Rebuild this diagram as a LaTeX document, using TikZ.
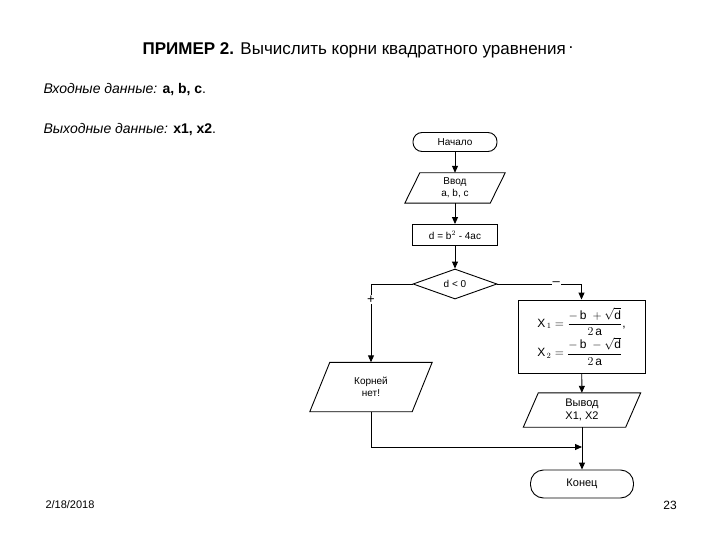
\documentclass[tikz,border=0pt]{standalone}
\usepackage{fontspec}
\setmainfont{Liberation Sans}
\usetikzlibrary{shapes.geometric,arrows.meta}
\begin{document}
\begin{tikzpicture}[x=1pt,y=-1pt,
  box/.style={draw=none,inner sep=0,font=\fontsize{10}{12}\selectfont,align=center},
  ln/.style={line width=0.9pt},
  arr/.style={ln,-{Triangle[length=7pt,width=6pt]}}]
\useasboundingbox (0,0) rectangle (720,540);
\node[font=\fontsize{17}{20}\selectfont] (title) at (358,50) {\textbf{ПРИМЕР 2.} Вычислить корни квадратного уравнения\,\raisebox{6pt}{.}};
\node[anchor=west,font=\fontsize{14}{16}\selectfont] (in) at (40,90) {\textit{Входные данные:} \textbf{a, b, c}.};
\node[anchor=west,font=\fontsize{14}{16}\selectfont] (out) at (40,130) {\textit{Выходные данные:} \textbf{x1, x2}.};
\node[anchor=west,font=\fontsize{11}{13}\selectfont] (date) at (42,505) {2/18/2018};
\node[font=\fontsize{12}{14}\selectfont] (pg) at (670,505) {23};

\node[box,draw,rounded corners=9pt,minimum width=84pt,minimum height=19pt,ln] (start) at (455,142) {Начало};
\node[box,minimum width=100pt,minimum height=30pt] (inp) at (455,188) {Ввод\\a, b, c};
\draw[ln] ([xshift=15pt]inp.north west) -- (inp.north east) -- ([xshift=-15pt]inp.south east) -- (inp.south west) -- cycle;
\node[box,draw,ln,minimum width=85pt,minimum height=21pt] (calc) at (455,235) {d = b$^2$ - 4ac};
\node[box,draw,ln,diamond,aspect=2.8,minimum width=84pt,minimum height=30pt] (cond) at (455,284) {d < 0};
\node[box,draw,ln,minimum width=127pt,minimum height=73pt,font=\fontsize{12}{14}\selectfont] (form) at (581.5,336.5) {%
$\displaystyle\mathrm{X}_{\,1} = \frac{-\,\mathrm{b}\;+\sqrt{\mathrm{d}}}{2\,\mathrm{a}}$,\\[1pt]
$\displaystyle\mathrm{X}_{\,2} = \frac{-\,\mathrm{b}\;-\sqrt{\mathrm{d}}}{2\,\mathrm{a}}$\phantom{,}};
\node[box,minimum width=122pt,minimum height=49pt] (none) at (371,387) {Корней\\нет!};
\draw[ln] ([xshift=20pt]none.north west) -- (none.north east) -- ([xshift=-20pt]none.south east) -- (none.south west) -- cycle;
\node[box,minimum width=117pt,minimum height=34pt,font=\fontsize{11}{13}\selectfont] (outp) at (582,410) {Вывод\\X1, X2};
\draw[ln] ([xshift=15pt]outp.north west) -- (outp.north east) -- ([xshift=-15pt]outp.south east) -- (outp.south west) -- cycle;
\node[box,draw,ln,rounded corners=13pt,minimum width=103pt,minimum height=28pt,font=\fontsize{11}{13}\selectfont] (end) at (582,484) {Конец};
\coordinate (join) at (582,447);

\draw[arr] (start) -- (inp);
\draw[arr] (inp) -- (calc);
\draw[arr] (calc) -- (cond);
\draw[arr] (cond.west) -| node[pos=0.6,fill=white,inner sep=1pt,font=\fontsize{13}{14}\selectfont]{+} (none.north);
\draw[arr] (cond.east) -| node[pos=0.35,fill=white,inner sep=1pt,font=\fontsize{13}{14}\selectfont]{–} (form.north);
\draw[arr] (form) -- (outp);
\draw[arr] (none.south) |- (join);
\draw[arr] (outp) -- (end);
\end{tikzpicture}
\end{document}
